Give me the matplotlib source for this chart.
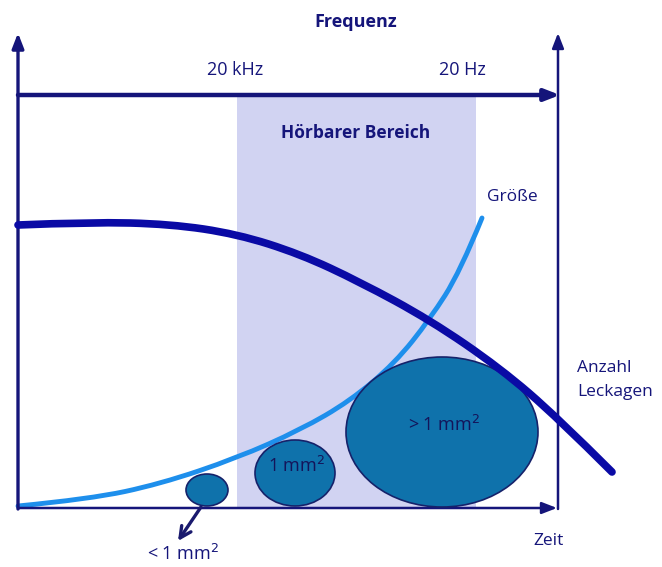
import numpy as np
import matplotlib.pyplot as plt
from matplotlib.patches import Ellipse, Rectangle, PathPatch
from matplotlib.path import Path

# diagram laid out in picture pixel units (y grows downwards)
anzahl_x = [18, 90, 170, 237, 300, 360, 430, 500, 558, 612]
anzahl_y = [225, 222, 224, 234, 254, 282, 320, 368, 418, 472]

groesse_x = [18, 90, 160, 237, 300, 350, 395, 430, 460, 482]
groesse_y = [506, 499, 484, 458, 430, 401, 363, 319, 272, 218]

# leak sizes: centre x, centre y, width, height, label
leak_x = [207, 295, 442]
leak_y = [490, 473, 432]
leak_w = [42, 80, 192]
leak_h = [32, 66, 150]
leak_labels = ["", "1 mm$^2$", "> 1 mm$^2$"]

band_left, band_right = 237, 476
freq_labels = ["20 kHz", "20 Hz"]
freq_pos = [235, 462]

navy = "#15157a"
dark_curve = "#0a0aa5"
light_curve = "#1e8fec"
shade = "#d1d3f2"
blob = "#0f72ab"

plt.rcParams['font.family'] = ['Open Sans', 'DejaVu Sans']


def smooth_path(xs, ys):
    # quadratic bezier through midpoints of the given guide points
    pts = list(zip(xs, ys))
    verts = [pts[0]]
    codes = [Path.MOVETO]
    for i in range(1, len(pts) - 1):
        if i < len(pts) - 2:
            end = ((pts[i][0] + pts[i + 1][0]) / 2, (pts[i][1] + pts[i + 1][1]) / 2)
        else:
            end = pts[-1]
        verts += [pts[i], end]
        codes += [Path.CURVE3, Path.CURVE3]
    return Path(verts, codes)


fig = plt.figure(figsize=(6.62, 5.67), dpi=100)
ax = fig.add_axes([0, 0, 1, 1])
ax.set_xlim(0, 662)
ax.set_ylim(567, 0)
ax.axis("off")

# audible band
ax.add_patch(Rectangle((band_left, 97), band_right - band_left, 411,
                       facecolor=shade, edgecolor="none", zorder=1))

# axes and arrows
arrow = dict(arrowstyle="-|>,head_width=0.35,head_length=0.9", color=navy, lw=2.4,
             shrinkA=0, shrinkB=0)
ax.annotate("", xy=(18, 33), xytext=(18, 509), arrowprops=arrow, zorder=3)
ax.annotate("", xy=(558, 33), xytext=(558, 509), arrowprops=dict(arrow, lw=1.8), zorder=3)
ax.annotate("", xy=(560, 95), xytext=(18, 95), arrowprops=dict(arrow, lw=3.2), zorder=3)
ax.annotate("", xy=(557, 508), xytext=(18, 508), arrowprops=dict(arrow, lw=1.8), zorder=3)

# curves
ax.add_patch(PathPatch(smooth_path(groesse_x, groesse_y), facecolor="none",
                       edgecolor=light_curve, lw=3.5, capstyle="round", zorder=2))
for i in range(len(leak_x)):
    ax.add_patch(Ellipse((leak_x[i], leak_y[i]), leak_w[i], leak_h[i],
                         facecolor=blob, edgecolor="#16226a", lw=1.2, zorder=4))
    if leak_labels[i]:
        ax.text(leak_x[i] + 2, leak_y[i] - 7, leak_labels[i], ha="center", va="center",
                fontsize=13, color="#14145a", zorder=5)
ax.add_patch(PathPatch(smooth_path(anzahl_x, anzahl_y), facecolor="none",
                       edgecolor=dark_curve, lw=5.5, capstyle="round", zorder=5))

# small leak pointer
ax.annotate("", xy=(178, 541), xytext=(201, 507),
            arrowprops=dict(arrowstyle="->,head_width=0.4,head_length=0.8",
                            color="#1a1a6e", lw=2.4, shrinkA=0, shrinkB=0), zorder=5)

# texts
ax.text(356, 22, "Frequenz", ha="center", va="center", fontsize=13,
        fontweight="bold", color=navy)
for lab, xp in zip(freq_labels, freq_pos):
    ax.text(xp, 70, lab, ha="center", va="center", fontsize=13, color=navy)
ax.text(356, 133, "Hörbarer Bereich", ha="center", va="center", fontsize=12.5,
        fontweight="bold", color=navy)
ax.text(512, 197, "Größe", ha="center", va="center", fontsize=12.5, color=navy)
ax.text(577, 380, "Anzahl\nLeckagen", ha="left", va="center", fontsize=12.5,
        color=navy, linespacing=1.7)
ax.text(549, 541, "Zeit", ha="center", va="center", fontsize=12.5, color=navy)
ax.text(183, 554, "< 1 mm$^2$", ha="center", va="center", fontsize=13, color=navy)

fig.savefig("out.png", dpi=100, facecolor="white")
